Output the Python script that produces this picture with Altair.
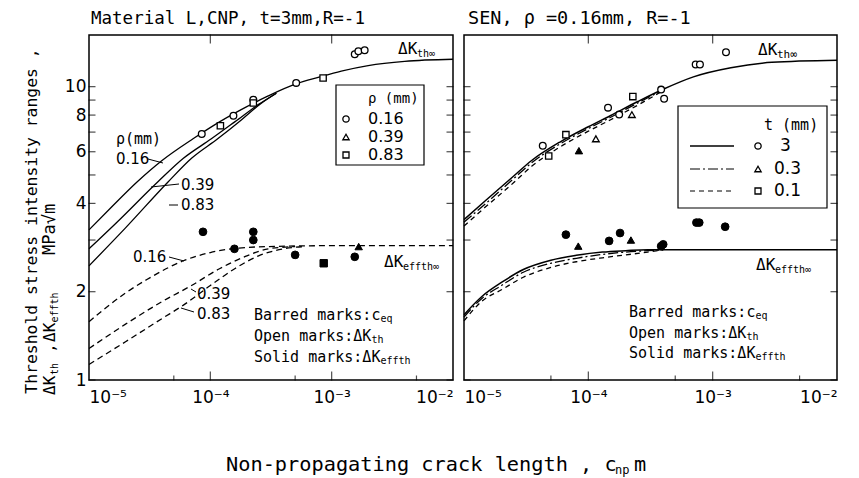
import altair as alt
import pandas as pd

FONT = "DejaVu Sans"
MONO = "DejaVu Sans Mono"

# ---------------- axis ticks ----------------
x_decades = [1e-5, 1e-4, 1e-3, 1e-2]
x_minor = [5e-5, 5e-4, 5e-3]
y_labels = [1, 2, 4, 6, 8, 10]
y_ticks = [1, 2, 3, 4, 5, 6, 7, 8, 9, 10]

# ---------------- left panel: Material L, CNP, t=3mm, R=-1 ----------------
# predicted ΔK_th curves for notch radius rho (mm)
L_th_016_c = [1e-5, 1.5e-5, 2.5e-5, 4e-5, 7.2e-5, 1.2e-4, 2e-4, 3e-4, 5e-4, 8e-4, 1.2e-3, 2e-3, 4e-3, 1e-2]
L_th_016_k = [3.25, 3.85, 4.74, 5.6, 6.64, 7.6, 8.55, 9.3, 10.2, 10.8, 11.3, 11.8, 12.2, 12.4]
L_th_039_c = [1e-5, 1.7e-5, 3.7e-5, 6e-5, 1.02e-4, 1.6e-4, 2.5e-4, 3.5e-4]
L_th_039_k = [2.8, 3.45, 4.74, 5.7, 6.64, 7.6, 8.7, 9.5]
L_th_083_c = [1e-5, 2e-5, 4.5e-5, 7e-5, 1.15e-4, 1.8e-4, 2.6e-4, 3.5e-4]
L_th_083_k = [2.45, 3.3, 4.74, 5.7, 6.64, 7.7, 8.75, 9.5]
# predicted ΔK_effth curves
L_ef_016_c = [1e-5, 2e-5, 3e-5, 6e-5, 1e-4, 1.5e-4, 3e-4, 1e-3, 1e-2]
L_ef_016_k = [1.58, 1.98, 2.2, 2.55, 2.72, 2.8, 2.85, 2.87, 2.87]
L_ef_039_c = [1e-5, 2e-5, 4e-5, 7e-5, 1.2e-4, 2e-4, 3e-4, 5e-4]
L_ef_039_k = [1.28, 1.55, 1.85, 2.1, 2.4, 2.65, 2.8, 2.85]
L_ef_083_c = [1e-5, 2e-5, 4e-5, 6e-5, 1e-4, 1.6e-4, 2.5e-4, 4e-4, 6e-4]
L_ef_083_k = [1.13, 1.35, 1.62, 1.8, 2.1, 2.4, 2.65, 2.8, 2.85]
# measured ΔK_th (open marks)
L_open_circ_c = [8.5e-5, 1.55e-4, 2.26e-4, 5.1e-4, 1.55e-3, 1.66e-3, 1.87e-3]
L_open_circ_k = [6.9, 7.96, 9.03, 10.3, 12.9, 13.2, 13.3]
L_open_sq_c = [1.21e-4, 2.26e-4, 8.5e-4]
L_open_sq_k = [7.36, 8.8, 10.7]
# measured ΔK_effth (solid marks)
L_sol_circ_c = [8.7e-5, 2.26e-4, 2.26e-4, 1.58e-4, 5e-4, 1.55e-3]
L_sol_circ_k = [3.2, 3.2, 3.0, 2.8, 2.67, 2.63]
L_sol_sq_c = [8.6e-4]
L_sol_sq_k = [2.5]
L_sol_tri_c = [1.67e-3]
L_sol_tri_k = [2.85]

# ---------------- right panel: SEN, rho=0.16mm, R=-1 ----------------
R_th_c = [1e-5, 1.5e-5, 2.5e-5, 3.5e-5, 6e-5, 1e-4, 1.5e-4, 2.5e-4, 4e-4, 7e-4, 1.4e-3, 3e-3, 1e-2]
R_th_3_k = [3.52, 4.1, 4.95, 5.6, 6.5, 7.3, 7.96, 8.9, 9.8, 10.8, 11.6, 12.1, 12.3]
R_th_03_k = [3.45, 4.0, 4.85, 5.5, 6.4, 7.2, 7.85, 8.8, 9.75]
R_th_01_k = [3.35, 3.9, 4.7, 5.35, 6.25, 7.05, 7.7, 8.65, 9.7]
R_ef_c = [1e-5, 1.4e-5, 2e-5, 3e-5, 5e-5, 8e-5, 1.3e-4, 2e-4, 3e-4, 4e-4, 1e-3, 1e-2]
R_ef_3_k = [1.67, 1.93, 2.15, 2.38, 2.56, 2.66, 2.73, 2.76, 2.78, 2.78, 2.78, 2.78]
R_ef_03_k = [1.64, 1.9, 2.1, 2.33, 2.5, 2.6, 2.68, 2.73, 2.76, 2.78]
R_ef_01_k = [1.59, 1.86, 2.03, 2.24, 2.42, 2.53, 2.61, 2.67, 2.73, 2.78]
R_open_circ_c = [4.3e-5, 1.44e-4, 1.77e-4, 3.85e-4, 4.07e-4, 7.3e-4, 7.9e-4, 1.28e-3]
R_open_circ_k = [6.29, 8.48, 8.03, 9.77, 9.09, 11.9, 11.9, 13.1]
R_open_tri_c = [1.15e-4, 2.24e-4]
R_open_tri_k = [6.64, 8.03]
R_open_sq_c = [4.8e-5, 6.6e-5, 2.28e-4]
R_open_sq_k = [5.8, 6.86, 9.25]
R_fill_tri_up_c = [8.4e-5]
R_fill_tri_up_k = [6.05]
R_sol_circ_c = [6.6e-5, 1.47e-4, 1.8e-4, 3.85e-4, 4.0e-4, 7.4e-4, 7.8e-4, 1.26e-3]
R_sol_circ_k = [3.13, 2.98, 3.17, 2.86, 2.9, 3.44, 3.44, 3.33]
R_sol_tri_c = [8.3e-5, 2.2e-4]
R_sol_tri_k = [2.86, 3.0]

DUMMY = pd.DataFrame({"_": [0]})
XS = alt.Scale(type="log", domain=[1e-5, 1e-2], nice=False)
YS = alt.Scale(type="log", domain=[1, 15], nice=False, zero=False)

SUP = ("datum.value < 5e-5 ? '10\u207b\u2075' : datum.value < 5e-4 ? '10\u207b\u2074' : "
       "datum.value < 5e-3 ? '10\u207b\u00b3' : '10\u207b\u00b2'")
XAX = alt.Axis(values=x_decades, labelExpr=SUP, ticks=False, domain=False, grid=False, title=None,
               labelFont=FONT, labelFontSize=17, labelPadding=9, labelColor="black", labelAngle=0)
YAX = alt.Axis(values=y_labels, format="d", ticks=False, domain=False, grid=False, title=None,
               labelFont=FONT, labelFontSize=17, labelPadding=3, labelColor="black")


def make_enc(show_y):
    def X(f="c"):
        return alt.X(f"{f}:Q", scale=XS, axis=XAX)

    def Y(f="k"):
        return alt.Y(f"{f}:Q", scale=YS, axis=YAX if show_y else None)
    return X, Y


def ln(c, k, X, Y, dash=None, w=1.3):
    df = pd.DataFrame({"c": c[:len(k)], "k": k})
    kw = {"strokeDash": dash} if dash else {}
    return alt.Chart(df).mark_line(color="black", strokeWidth=w, interpolate="monotone", **kw).encode(x=X(), y=Y())


def pts(c, k, shape, solid, X, Y, size=45):
    df = pd.DataFrame({"c": c, "k": k})
    if solid:
        m = alt.Chart(df).mark_point(shape=shape, filled=True, fill="black", stroke="black",
                                     strokeWidth=1, size=size, opacity=1)
    else:
        m = alt.Chart(df).mark_point(shape=shape, filled=True, fill="white", stroke="black",
                                     strokeWidth=1.3, size=size, opacity=1)
    return m.encode(x=X(), y=Y())


def T(text, x, y, size=15, font=MONO, align="left", angle=0):
    return alt.Chart(DUMMY).mark_text(text=text, font=font, fontSize=size, align=align,
                                      baseline="middle", angle=angle, color="black").encode(
        x=alt.value(x), y=alt.value(y))


def R(x1, y1, x2, y2, dash=None, w=1.0):
    kw = {"strokeDash": dash} if dash else {}
    return alt.Chart(DUMMY).mark_rule(color="black", strokeWidth=w, **kw).encode(
        x=alt.value(x1), y=alt.value(y1), x2=alt.value(x2), y2=alt.value(y2))


def box(x1, y1, x2, y2):
    return alt.Chart(DUMMY).mark_rect(fill="white", stroke="black", strokeWidth=1.2).encode(
        x=alt.value(x1), y=alt.value(y1), x2=alt.value(x2), y2=alt.value(y2))


def sym(x, y, shape, size=40):
    return alt.Chart(DUMMY).mark_point(shape=shape, filled=True, fill="white", stroke="black",
                                       strokeWidth=1.3, size=size, opacity=1).encode(
        x=alt.value(x), y=alt.value(y))


def frame_ticks(W, H, X, Y):
    yt = pd.DataFrame({"k": y_ticks})
    xt = pd.DataFrame({"c": x_decades[1:-1]})
    xm = pd.DataFrame({"c": x_minor})
    return [
        alt.Chart(yt).mark_tick(orient="horizontal", size=7, thickness=1.2, color="black").encode(
            y=Y(), x=alt.value(3)),
        alt.Chart(yt).mark_tick(orient="horizontal", size=7, thickness=1.2, color="black").encode(
            y=Y(), x=alt.value(W - 3)),
        alt.Chart(xt).mark_tick(orient="vertical", size=9, thickness=1.2, color="black").encode(
            x=X(), y=alt.value(H - 4)),
        alt.Chart(xt).mark_tick(orient="vertical", size=9, thickness=1.2, color="black").encode(
            x=X(), y=alt.value(4)),
        alt.Chart(xm).mark_tick(orient="vertical", size=5, thickness=1.2, color="black").encode(
            x=X(), y=alt.value(H - 2)),
    ]


H = 345
WL, WR = 364, 373

# ---------------- left panel ----------------
X, Y = make_enc(True)
left_layers = [
    ln(L_th_016_c, L_th_016_k, X, Y),
    ln(L_th_039_c, L_th_039_k, X, Y),
    ln(L_th_083_c, L_th_083_k, X, Y),
    ln(L_ef_016_c, L_ef_016_k, X, Y, dash=[6, 4]),
    ln(L_ef_039_c, L_ef_039_k, X, Y, dash=[6, 4]),
    ln(L_ef_083_c, L_ef_083_k, X, Y, dash=[6, 4]),
    pts(L_open_circ_c, L_open_circ_k, "circle", False, X, Y),
    pts(L_open_sq_c, L_open_sq_k, "square", False, X, Y, size=40),
    pts(L_sol_circ_c, L_sol_circ_k, "circle", True, X, Y, size=60),
    pts(L_sol_sq_c, L_sol_sq_k, "square", True, X, Y, size=55),
    pts(L_sol_tri_c, L_sol_tri_k, "triangle-up", True, X, Y, size=55),
    # legend box
    box(247, 50, 335, 130),
    T("\u03c1 (mm)", 279, 64, size=14),
    sym(257, 84, "circle"), sym(257, 102, "triangle-up"), sym(257, 120, "square", 36),
    T("0.16", 279, 84, size=16, font=FONT),
    T("0.39", 279, 102, size=16, font=FONT),
    T("0.83", 279, 120, size=16, font=FONT),
    # curve labels
    T("\u03c1(mm)", 27, 104, size=15),
    T("0.16", 27, 124, size=15, font=FONT), R(59, 124, 74, 128),
    T("0.39", 92, 150, size=15, font=FONT), R(62, 152, 90, 149),
    T("0.83", 92, 170, size=15, font=FONT), R(80, 170, 89, 170),
    T("0.16", 44, 222, size=15, font=FONT), R(80, 222, 95, 226),
    T("0.39", 108, 259, size=15, font=FONT), R(102, 254, 107, 257),
    T("0.83", 108, 279, size=15, font=FONT), R(92, 273, 105, 277),
    T("\u0394K", 309, 14, size=16), T("th\u221e", 328, 19, size=10),
    T("\u0394K", 295, 227, size=16), T("effth\u221e", 314, 232, size=10),
    T("Barred marks:c", 165, 280, size=15), T("eq", 291.4, 284, size=10),
    T("Open marks:\u0394K", 165, 301, size=15), T("th", 282.4, 305, size=10),
    T("Solid marks:\u0394K", 165, 322, size=15), T("effth", 291.4, 326, size=10),
    # panel title
    T("Material L,CNP, t=3mm,R=-1", 2, -16, size=17.5),
    # y-axis title (two lines)
    T("Threshold stress intensity ranges ,", -57, 186, size=16.4, align="center", angle=270),
    T("\u0394K", -39, 360, size=16, angle=270), T("th", -34, 340, size=10, angle=270),
    T(",", -39, 318, size=16, angle=270),
    T("\u0394K", -39, 307, size=16, angle=270), T("effth", -34, 287.5, size=10, angle=270),
    T("MPa\u221am", -39, 220, size=17, angle=270),
    # x-axis title (shared)
    T("Non-propagating crack length , c", 137, 430, size=20.3), T("np", 526, 435, size=12),
    T("m", 545, 430, size=20.3),
] + frame_ticks(WL, H, X, Y)

left = alt.layer(*left_layers).properties(width=WL, height=H)

# ---------------- right panel ----------------
X, Y = make_enc(False)
right_layers = [
    ln(R_th_c, R_th_3_k, X, Y, w=1.5),
    ln(R_th_c, R_th_03_k, X, Y, dash=[10, 3, 2, 3]),
    ln(R_th_c, R_th_01_k, X, Y, dash=[5, 4]),
    ln(R_ef_c, R_ef_3_k, X, Y, w=1.5),
    ln(R_ef_c, R_ef_03_k, X, Y, dash=[10, 3, 2, 3]),
    ln(R_ef_c, R_ef_01_k, X, Y, dash=[5, 4]),
    pts(R_open_circ_c, R_open_circ_k, "circle", False, X, Y),
    pts(R_open_tri_c, R_open_tri_k, "triangle-up", False, X, Y),
    pts(R_open_sq_c, R_open_sq_k, "square", False, X, Y, size=40),
    pts(R_fill_tri_up_c, R_fill_tri_up_k, "triangle-up", True, X, Y, size=55),
    pts(R_sol_circ_c, R_sol_circ_k, "circle", True, X, Y, size=60),
    pts(R_sol_tri_c, R_sol_tri_k, "triangle-up", True, X, Y, size=55),
    # legend box
    box(214, 71, 363, 173),
    T("t (mm)", 300, 90, size=15),
    R(226, 111, 270, 111, w=1.5), R(226, 134, 270, 134, dash=[10, 3, 2, 3]), R(226, 156, 270, 156, dash=[5, 4]),
    sym(294, 111, "circle"), sym(294, 134, "triangle-up"), sym(294, 156, "square", 36),
    T("3", 316, 111, size=17, font=FONT),
    T("0.3", 310, 134, size=17, font=FONT),
    T("0.1", 310, 156, size=17, font=FONT),
    T("\u0394K", 294, 15, size=16), T("th\u221e", 313, 20, size=11),
    T("\u0394K", 292, 230, size=16), T("effth\u221e", 311, 235, size=10),
    T("Barred marks:c", 165, 277, size=15), T("eq", 291.4, 281, size=10),
    T("Open marks:\u0394K", 165, 298, size=15), T("th", 282.4, 302, size=10),
    T("Solid marks:\u0394K", 165, 318, size=15), T("effth", 291.4, 322, size=10),
    T("SEN, \u03c1 =0.16mm, R=-1", 4, -17, size=18.5),
] + frame_ticks(WR, H, X, Y)

right = alt.layer(*right_layers).properties(width=WR, height=H)

chart = alt.hconcat(left, right, spacing=11, bounds="flush").properties(
    padding={"left": 15, "top": 0, "right": 0, "bottom": 0}
).configure_view(stroke="black", strokeWidth=1.5)

chart.save("out.html", embed_options={"renderer": "svg", "actions": False})
